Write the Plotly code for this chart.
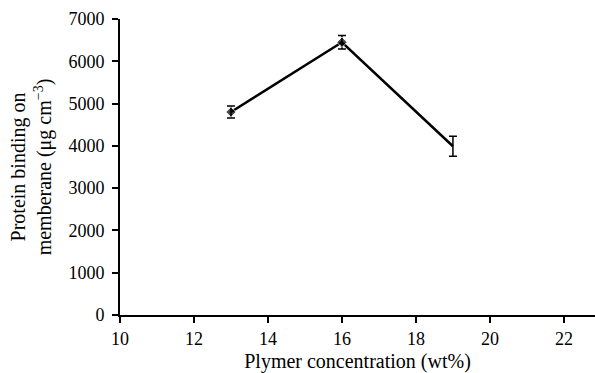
import plotly.graph_objects as go

concentration = [13, 16, 19]
binding = [4800, 6450, 3990]
binding_err = [140, 160, 235]
marker_sizes = [8, 8, 0]

x_ticks = [10, 12, 14, 16, 18, 20, 22]
y_ticks = [0, 1000, 2000, 3000, 4000, 5000, 6000, 7000]

fig = go.Figure()
fig.add_trace(go.Scatter(
    x=concentration, y=binding,
    mode="lines+markers",
    line=dict(color="black", width=2.5),
    marker=dict(symbol="diamond", size=marker_sizes, color="black"),
    error_y=dict(type="data", array=binding_err, visible=True,
                 color="black", thickness=1.5, width=4),
    showlegend=False,
))

fam = "Liberation Serif, Times New Roman, serif"
tick_font = dict(family=fam, size=18, color="black")
title_font = dict(family=fam, size=20, color="black")

fig.update_layout(
    width=595, height=373,
    margin=dict(l=120, r=0, t=19, b=58),
    paper_bgcolor="white", plot_bgcolor="white",
    font=tick_font,
    xaxis=dict(
        range=[10, 22.84], tickvals=x_ticks, ticktext=[str(v) for v in x_ticks],
        showgrid=False, zeroline=False, showline=True, linecolor="black", linewidth=2,
        ticks="outside", ticklen=6, tickwidth=1.5, tickcolor="black",
        tickfont=tick_font,
        title=dict(text="Plymer concentration (wt%)", standoff=7, font=title_font),
    ),
    yaxis=dict(
        range=[0, 7000], tickvals=y_ticks, ticktext=[str(v) for v in y_ticks],
        showgrid=False, zeroline=False, showline=True, linecolor="black", linewidth=2,
        ticks="outside", ticklen=6, tickwidth=1.5, tickcolor="black",
        tickfont=tick_font, ticklabelstandoff=4,
        title=dict(text="Protein binding on<br>memberane (μg cm<sup>−3</sup>)", standoff=11, font=title_font),
    ),
)

fig.write_html("out.html", config={"displayModeBar": False},
               post_script="document.body.style.margin='0';")
